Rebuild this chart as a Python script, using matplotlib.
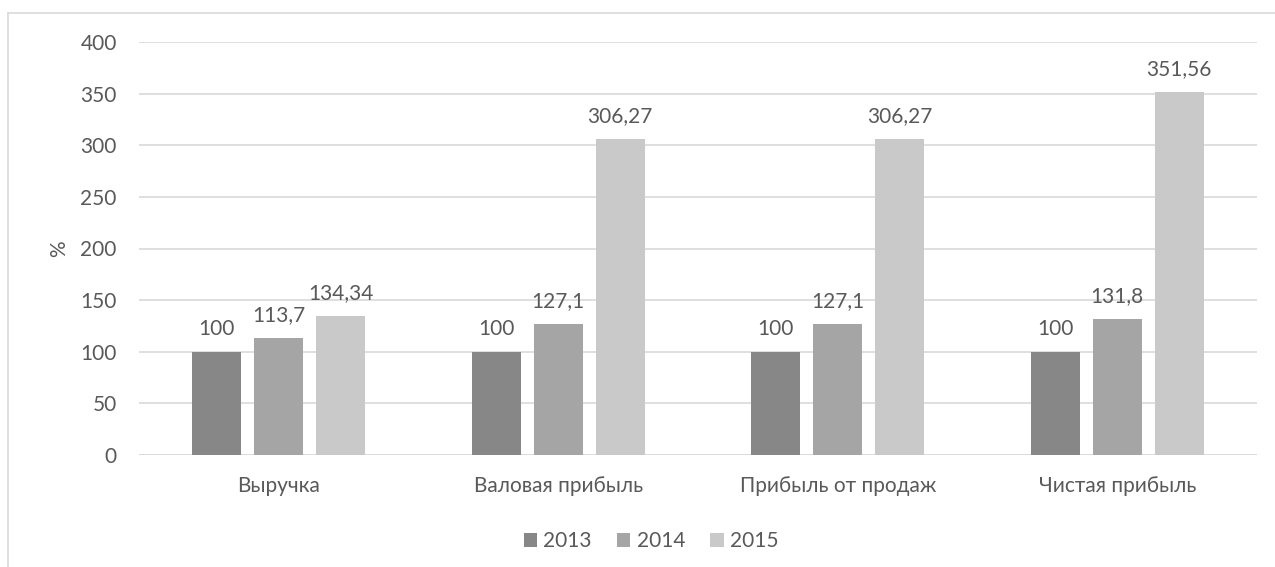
import matplotlib
matplotlib.use("Agg")
import matplotlib.pyplot as plt
from matplotlib.lines import Line2D
import numpy as np

plt.rcParams['font.family'] = ['Lato', 'DejaVu Sans']

categories = ["Выручка", "Валовая прибыль", "Прибыль от продаж", "Чистая прибыль"]
years = ["2013", "2014", "2015"]
v2013 = [100, 100, 100, 100]
v2014 = [113.7, 127.1, 127.1, 131.8]
v2015 = [134.34, 306.27, 306.27, 351.56]
labels2013 = ["100", "100", "100", "100"]
labels2014 = ["113,7", "127,1", "127,1", "131,8"]
labels2015 = ["134,34", "306,27", "306,27", "351,56"]
yticks = [0, 50, 100, 150, 200, 250, 300, 350, 400]

colors = ["#878787", "#a5a5a5", "#c9c9c9"]
text_color = "#595959"
fs = 15

fig = plt.figure(figsize=(12.75, 5.67), dpi=100)
ax = fig.add_axes([139/1275, 1-455/567, (1257-139)/1275, (455-42)/567])

x = np.arange(len(categories))
w = 0.175
off = 0.222
series = [v2013, v2014, v2015]
lbls = [labels2013, labels2014, labels2015]
for i, (vals, lb) in enumerate(zip(series, lbls)):
    bars = ax.bar(x + (i - 1) * off, vals, width=w, color=colors[i], label=years[i], zorder=3)
    for b, t in zip(bars, lb):
        ax.annotate(t, (b.get_x() + b.get_width() / 2, b.get_height()),
                    xytext=(0, 16.5), textcoords="offset points",
                    ha="center", va="center", fontsize=fs, color=text_color)

ax.set_xlim(-0.5, len(categories) - 0.5)
ax.set_ylim(0, 400)
ax.set_yticks(yticks)
ax.set_yticklabels([str(v) for v in yticks])
ax.set_xticks(x)
ax.set_xticklabels(categories)
ax.tick_params(axis='both', length=0, labelsize=fs, colors=text_color)
ax.tick_params(axis='y', pad=16)
ax.tick_params(axis='x', pad=15)
ax.grid(axis='y', color="#d9d9d9", linewidth=1.2, zorder=0)
for s in ax.spines.values():
    s.set_visible(False)
ax.axhline(0, color="#d9d9d9", linewidth=1.2, zorder=2)
ax.set_ylabel("%", fontsize=fs, color=text_color, labelpad=8)

leg = fig.legend(loc='center', bbox_to_anchor=(651/1275, 1-541/567), ncol=3, frameon=False,
                 fontsize=fs, handlelength=0.65, handleheight=0.65, handletextpad=0.3,
                 columnspacing=1.2)
for t in leg.get_texts():
    t.set_color(text_color)

fig.add_artist(Line2D([8/1275, 8/1275], [0, 1-13/567], transform=fig.transFigure,
                      color="#d9d9d9", linewidth=1.2))
fig.add_artist(Line2D([8/1275, 1], [1-13/567, 1-13/567], transform=fig.transFigure,
                      color="#d9d9d9", linewidth=1.2))

fig.savefig("out.png", dpi=100, facecolor="white")
